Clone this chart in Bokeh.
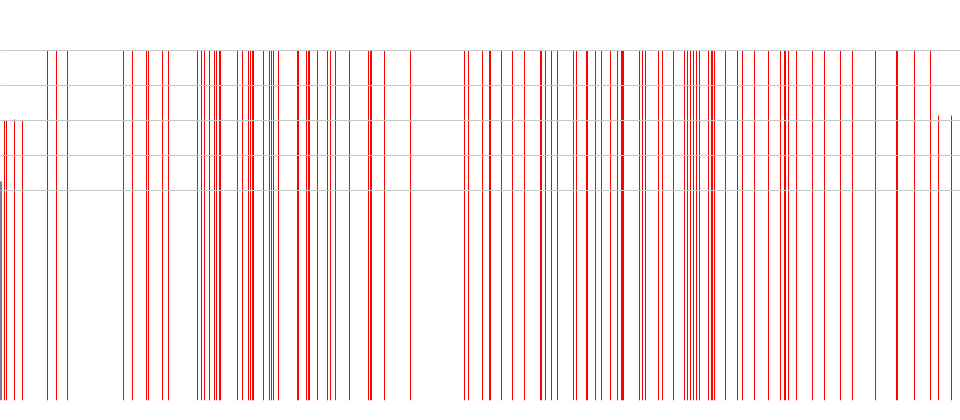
from bokeh.plotting import figure
from bokeh.models import Range1d, FixedTicker, ColumnDataSource
from bokeh.embed import file_html
from bokeh.resources import INLINE

# Event positions (horizontal units) that reach the full height
full_events = [47, 56, 67, 123, 132, 146, 148, 162, 168, 197, 201, 204, 209, 214,
               216, 219, 220, 237, 242, 248, 250, 252, 253, 263, 269, 271, 273, 278,
               297, 298, 306, 308, 309, 317, 327, 330, 335, 349, 368, 370, 371, 384,
               410, 464, 468, 482, 489, 490, 501, 512, 524, 540, 541, 545, 551, 557,
               573, 576, 586, 587, 595, 601, 610, 617, 621, 622, 623, 639, 642, 645,
               658, 662, 673, 684, 687, 690, 693, 696, 699, 708, 711, 712, 714, 725,
               737, 742, 754, 768, 780, 784, 785, 788, 796, 812, 824, 840, 852, 875,
               896, 897, 914, 930]
full_value = 10.0

# Events with lower values
short_events = [4, 6, 14, 22, 938, 951]
short_values = [8.0, 8.0, 8.03, 8.0, 8.14, 8.14]

# Baseline marker event
base_event = [0]
base_value = [6.26]

grid_ticks = [6, 7, 8, 9, 10]

p = figure(width=960, height=410, output_backend="svg", toolbar_location=None,
           x_range=Range1d(0, 960), y_range=Range1d(0, 10.0 + 1.0 / 35.0),
           min_border_left=0, min_border_right=0, min_border_top=49, min_border_bottom=10)
p.outline_line_color = None
p.background_fill_color = "white"
p.border_fill_color = "white"

src_full = ColumnDataSource(dict(x=full_events, y0=[0] * len(full_events),
                                 y1=[full_value] * len(full_events)))
p.segment(x0="x", y0="y0", x1="x", y1="y1", source=src_full,
          line_color="#ff0000", line_width=1)

src_short = ColumnDataSource(dict(x=short_events, y0=[0] * len(short_events), y1=short_values))
p.segment(x0="x", y0="y0", x1="x", y1="y1", source=src_short,
          line_color="#ff0000", line_width=1)

src_base = ColumnDataSource(dict(x=base_event, y0=[0], y1=base_value))
p.segment(x0="x", y0="y0", x1="x", y1="y1", source=src_base,
          line_color="#000000", line_width=2)

p.xaxis.visible = False
p.yaxis.visible = False
p.xgrid.visible = False
p.ygrid.ticker = FixedTicker(ticks=grid_ticks)
p.ygrid.grid_line_color = "#c8c8c8"
p.ygrid.grid_line_width = 1
p.ygrid.level = "overlay"

open("out.html", "w").write(file_html(p, INLINE))
